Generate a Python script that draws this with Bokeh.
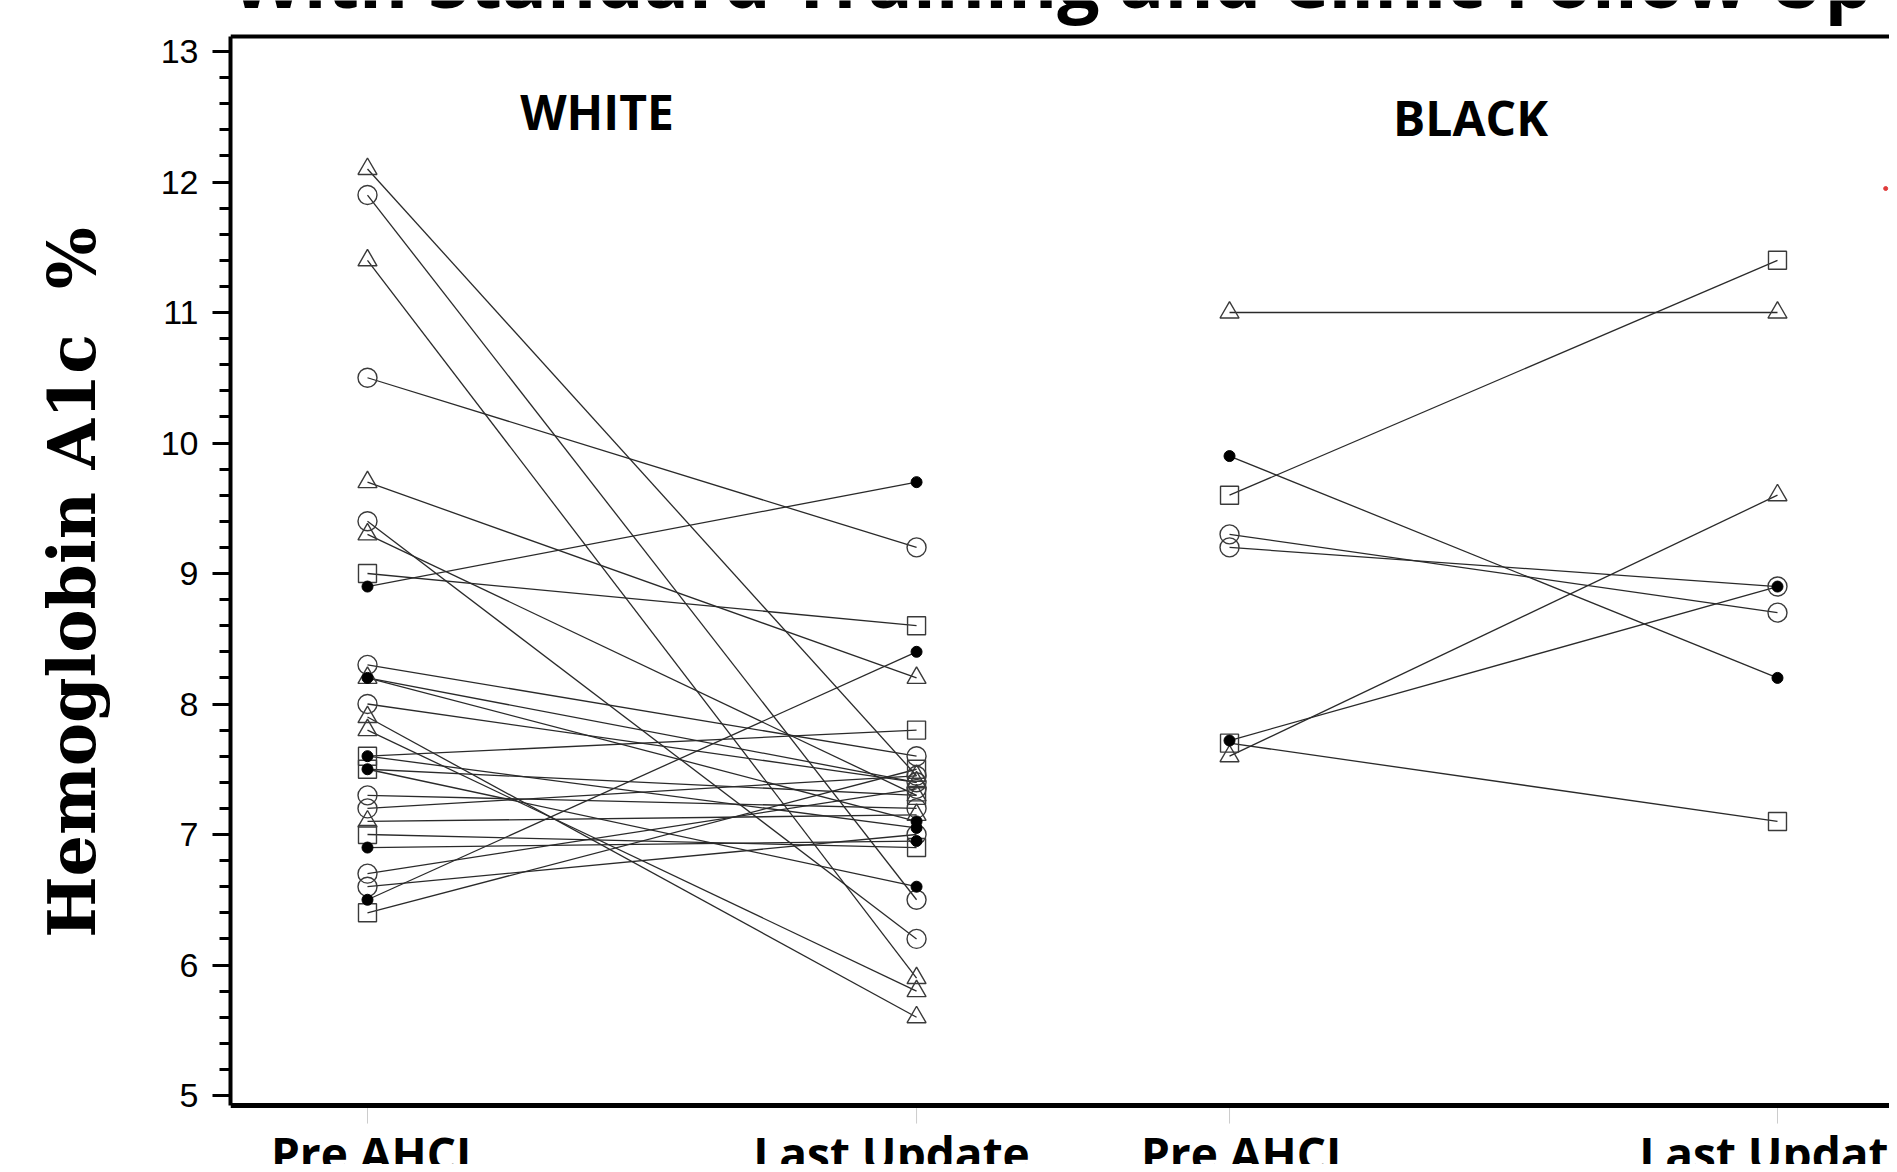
from bokeh.plotting import figure
from bokeh.models import (ColumnDataSource, LinearAxis, SingleIntervalTicker,
                          Range1d, Span)
from bokeh.embed import file_html
from bokeh.resources import INLINE
from bokeh.core.properties import value

# ---------------- data ----------------
title_text = "With Standard Training and Clinic Follow Up"
y_label = "Hemoglobin A1c\u00a0\u00a0%"
time_labels = ["Pre AHCL", "Last Update"]
panel_names = ["WHITE", "BLACK"]

white_pre = [8.9, 6.5, 8.2, 7.6, 7.5, 6.9,
             11.9, 10.5, 9.4, 8.3, 8.0, 7.3, 7.2, 6.7, 6.6,
             9.0, 7.6, 7.5, 7.0, 6.4,
             12.1, 11.4, 9.7, 9.3, 8.2, 7.9, 7.8, 7.1]
white_last = [9.7, 8.4, 7.1, 7.05, 6.6, 6.95,
              6.5, 9.2, 6.2, 7.6, 7.4, 7.2, 7.45, 7.35, 7.0,
              8.6, 7.8, 7.3, 6.9, 7.5,
              7.45, 5.9, 8.2, 7.3, 7.4, 5.6, 5.8, 7.15]
white_symbol = ["dot"] * 6 + ["circle"] * 9 + ["square"] * 5 + ["triangle"] * 8

black_pre = [11.0, 9.6, 9.9, 9.3, 9.2, 7.7, 7.6, 7.72]
black_last = [11.0, 11.4, 8.2, 8.7, 8.9, 7.1, 9.6, 8.9]
black_symbol = ["triangle", "square", "dot", "circle", "circle", "square", "triangle", "dot"]

third_panel_values = [11.95]

# axis extent (plot box) in data units
Y_LOW, Y_HIGH = 4.923, 13.115

# ---------------- layout constants ----------------
X_POS = {"WHITE": (1.0, 2.0), "BLACK": (2.57, 3.568)}
THIRD_X = 3.765
PANEL_LABEL_POS = {"WHITE": (1.418, 12.789), "BLACK": (3.009, 12.742)}
TITLE_POS = (2.246, 13.161)
TICKLABEL_Y = 4.80
TICKLABEL_DX = [9, -25, 17, 0]
TICK_LEN = 0.138

W, H = 1889, 1164
p = figure(width=W, height=H, output_backend="svg", toolbar_location=None,
           x_range=Range1d(0.7505, 3.772), y_range=Range1d(4.4713, 13.3908),
           min_border_left=230, min_border_right=0, min_border_top=0,
           min_border_bottom=0, x_axis_type=None, y_axis_type=None)
p.outline_line_color = None
p.grid.visible = False
p.background_fill_color = "white"
p.border_fill_color = "white"

LINE_COLOR = "#2a2a2a"
MARK_COLOR = "#3a3a3a"


def add_panel(name, pre, last, symbols):
    x0, x1 = X_POS[name]
    seg = ColumnDataSource(dict(x0=[x0] * len(pre), x1=[x1] * len(pre), y0=pre, y1=last))
    p.segment("x0", "y0", "x1", "y1", source=seg, line_color=LINE_COLOR, line_width=1.3)
    for sym in ["circle", "square", "triangle", "dot"]:
        xs, ys = [], []
        for a, b, s in zip(pre, last, symbols):
            if s == sym:
                xs += [x0, x1]
                ys += [a, b]
        if not xs:
            continue
        src = ColumnDataSource(dict(x=xs, y=ys))
        if sym == "dot":
            p.scatter("x", "y", source=src, marker="circle", size=11,
                      fill_color="black", line_color="black")
        else:
            p.scatter("x", "y", source=src, marker=sym,
                      size=19 if sym != "square" else 18,
                      fill_color=None, line_color=MARK_COLOR, line_width=1.4)


add_panel("WHITE", white_pre, white_last, white_symbol)
add_panel("BLACK", black_pre, black_last, black_symbol)

p.scatter([THIRD_X] * len(third_panel_values), third_panel_values, marker="circle",
          size=4, fill_color="#e03a3a", line_color="#e03a3a")

# ---------------- y axis ----------------
yax = LinearAxis(ticker=SingleIntervalTicker(interval=1, num_minor_ticks=5),
                 bounds=(Y_LOW, Y_HIGH))
yax.axis_line_width = 4
yax.axis_line_color = "black"
yax.major_tick_out = 18
yax.major_tick_in = 0
yax.minor_tick_out = 11
yax.minor_tick_in = 0
yax.major_tick_line_width = 3
yax.minor_tick_line_width = 3
yax.major_label_standoff = 14
yax.major_label_text_font = "Liberation Sans"
yax.major_label_text_font_size = "34px"
yax.major_label_text_color = "black"
yax.axis_label = y_label
yax.axis_label_text_font = "DejaVu Serif"
yax.axis_label_text_font_style = "bold"
yax.axis_label_text_font_size = "65px"
yax.axis_label_text_color = "black"
yax.axis_label_standoff = 48
p.add_layout(yax, "left")

# ---------------- box lines (bottom axis line and top border) ----------------
p.add_layout(Span(location=Y_LOW, dimension="width", line_color="black", line_width=5))
p.add_layout(Span(location=Y_HIGH, dimension="width", line_color="black", line_width=4))

# x ticks and tick labels
xticks, xlabels = [], []
for name in panel_names:
    for xp, lab in zip(X_POS[name], time_labels):
        xticks.append(xp)
        xlabels.append(lab)
p.segment(x0=xticks, x1=xticks, y0=[Y_LOW] * 4, y1=[Y_LOW - TICK_LEN] * 4,
          line_color="#cccccc", line_width=1)
lab_src = ColumnDataSource(dict(x=xticks, y=[TICKLABEL_Y] * 4, text=xlabels,
                                dx=TICKLABEL_DX))
p.text(x="x", y="y", text="text", x_offset="dx", source=lab_src, text_align="center",
       text_baseline="top", text_font=value("Open Sans"), text_font_style="bold",
       text_font_size="46px", text_color="black")

# panel labels
p.text(x=[PANEL_LABEL_POS[n][0] for n in panel_names],
       y=[PANEL_LABEL_POS[n][1] for n in panel_names],
       text=panel_names, text_align="center", text_baseline="top",
       text_font=value("Open Sans"), text_font_style="bold",
       text_font_size="48px", text_color="black")

# title (cut off at the top of the picture, as in the source)
p.text(x=[TITLE_POS[0]], y=[TITLE_POS[1]], text=[title_text], text_align="center",
       text_baseline="bottom", text_font=value("Open Sans"),
       text_font_style="bold", text_font_size="75px", text_color="black")

open("out.html", "w").write(file_html(p, INLINE))
